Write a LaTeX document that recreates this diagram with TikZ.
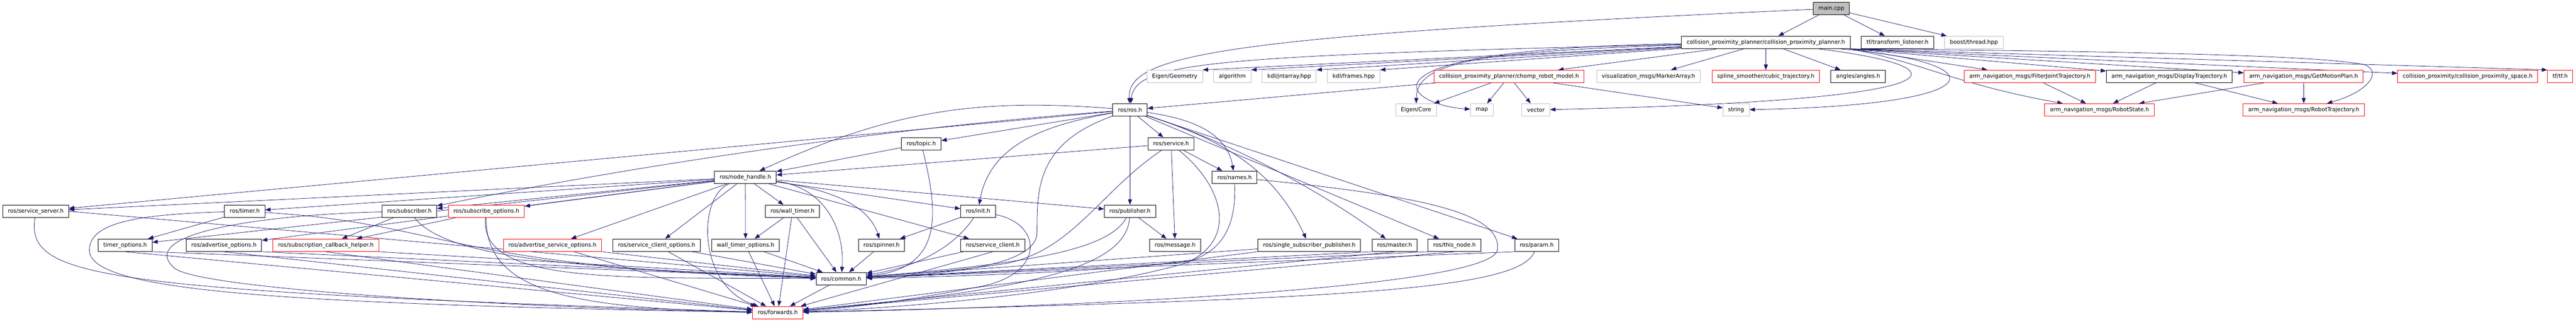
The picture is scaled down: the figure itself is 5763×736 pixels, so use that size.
\documentclass[tikz,border=0pt]{standalone}
\usepackage{fontspec}
\setmainfont{DejaVu Sans}
\usetikzlibrary{arrows.meta,positioning,backgrounds}
\definecolor{edgeblue}{HTML}{191970}
\definecolor{nodocgray}{HTML}{BFBFBF}

\begin{document}
\begin{tikzpicture}[x=1pt,y=-1pt,
    font=\fontsize{12.5}{15}\selectfont,
    >={Triangle[length=12pt,width=9pt]},
    box/.style={draw=black,line width=1.1pt,fill=white,minimum height=28pt,inner xsep=11.5pt,inner ysep=0pt},
    greybox/.style={box,draw=nodocgray},
    redbox/.style={box,draw=red},
    every edge/.style={draw=edgeblue,line width=0.9pt},
    link/.style={->,draw=edgeblue,line width=0.9pt}]
  \useasboundingbox (0,0) rectangle (5763,736);

  % top
  \node[box,fill=nodocgray] (main) at (4097,19) {main.cpp};
  \node[box] (cpp) at (3950.5,95) {collision\_proximity\_planner/collision\_proximity\_planner.h};
  \node[box] (tflisten) at (4245,95) {tf/transform\_listener.h};
  \node[greybox] (boostthr) at (4416,95) {boost/thread.hpp};

  % planner includes
  \node[greybox] (eigengeo) at (2628,171) {Eigen/Geometry};
  \node[greybox] (algo) [right=24pt of eigengeo] {algorithm};
  \node[greybox] (jntarr) [right=24pt of algo] {kdl/jntarray.hpp};
  \node[greybox] (kdlframes) [right=24pt of jntarr] {kdl/frames.hpp};
  \node[redbox] (chomp) at (3376,171) {collision\_proximity\_planner/chomp\_robot\_model.h};
  \node[greybox] (markers) at (3688,171) {visualization\_msgs/MarkerArray.h};
  \node[redbox] (cubic) at (3950.5,171) {spline\_smoother/cubic\_trajectory.h};
  \node[box] (angles) at (4157,171) {angles/angles.h};
  \node[redbox] (filterjt) at (4541,171) {arm\_navigation\_msgs/FilterJointTrajectory.h};
  \node[box] (displaytraj) at (4853,171) {arm\_navigation\_msgs/DisplayTrajectory.h};
  \node[redbox] (getplan) at (5153.5,171) {arm\_navigation\_msgs/GetMotionPlan.h};
  \node[redbox] (cpspace) at (5520.5,171) {collision\_proximity/collision\_proximity\_space.h};
  \node[redbox] (tftf) at (5727.5,171) {tf/tf.h};

  \node[box] (ros) at (2528,246) {ros/ros.h};
  \node[greybox] (eigencore) at (3168,246) {Eigen/Core};
  \node[greybox] (map) at (3315,246) {map};
  \node[greybox] (vector) at (3436,246) {vector};
  \node[greybox] (string) at (3884,246) {string};
  \node[redbox] (robstate) at (4697,246) {arm\_navigation\_msgs/RobotState.h};
  \node[redbox] (robtraj) at (5154,246) {arm\_navigation\_msgs/RobotTrajectory.h};

  % roscpp
  \node[box] (topic) at (2061,322) {ros/topic.h};
  \node[box] (service) at (2620,322) {ros/service.h};
  \node[box] (nh) at (1667.5,397) {ros/node\_handle.h};
  \node[box] (names) at (2762,397) {ros/names.h};

  \node[box] (srvserver) at (80,473) {ros/service\_server.h};
  \node[box] (timer) at (547.5,473) {ros/timer.h};
  \node[box] (subscriber) at (916,473) {ros/subscriber.h};
  \node[redbox] (subopts) at (1088,473) {ros/subscribe\_options.h};
  \node[box] (walltimer) at (1773,473) {ros/wall\_timer.h};
  \node[box] (init) at (2188,473) {ros/init.h};
  \node[box] (publisher) at (2528,473) {ros/publisher.h};

  \node[box] (timeropts) at (280,549) {timer\_options.h};
  \node[box] (advopts) at (501,549) {ros/advertise\_options.h};
  \node[redbox] (subhelper) at (729,549) {ros/subscription\_callback\_helper.h};
  \node[redbox] (advsrvopts) at (1236,549) {ros/advertise\_service\_options.h};
  \node[box] (srvclientopts) at (1469,549) {ros/service\_client\_options.h};
  \node[box] (walltimeropts) at (1668,549) {wall\_timer\_options.h};
  \node[box] (spinner) at (1972,549) {ros/spinner.h};
  \node[box] (srvclient) at (2221,549) {ros/service\_client.h};
  \node[box] (message) at (2629,549) {ros/message.h};
  \node[box] (singlesub) at (2929,549) {ros/single\_subscriber\_publisher.h};
  \node[box] (master) at (3120,549) {ros/master.h};
  \node[box] (thisnode) at (3254,549) {ros/this\_node.h};
  \node[box] (param) at (3438,549) {ros/param.h};

  \node[box] (common) at (1882,624) {ros/common.h};
  \node[redbox] (forwards) at (1740,700) {ros/forwards.h};

  \begin{pgfonlayer}{background}
    % main.cpp
    \path[->] (main) edge (cpp) edge (tflisten) edge (boostthr);
    \draw[link] (main) .. controls (2750,80) and (2520,120) .. (ros);
    % planner header
    \draw[link] (cpp) .. controls (2700,125) and (2540,140) .. (ros);
    \path[->] (cpp) edge (eigengeo.north east) edge (algo.north east) edge (jntarr.north east)
      edge (kdlframes.north east) edge (chomp) edge (markers) edge (cubic) edge (angles);
    \draw[link] (cpp) .. controls (3300,115) and (3170,140) .. (eigencore);
    \draw[link] (cpp) .. controls (3000,110) and (3140,235) .. (map);
    \draw[link] (cpp) .. controls (4400,150) and (4420,225) .. (vector);
    \draw[link] (cpp) .. controls (4470,140) and (4470,235) .. (string);
    \path[->] (cpp.south east) edge (filterjt) edge (displaytraj) edge (getplan) edge (cpspace) edge (tftf.north west);
    \draw[link] (cpp.south east) .. controls (4300,140) and (4380,190) .. (robstate);
    \draw[link] (cpp.south east) .. controls (4800,115) and (5200,125) .. (5290,145) .. controls (5330,160) and (5300,205) .. (robtraj);
    \path[->] (chomp) edge (ros) edge (eigencore) edge (map) edge (vector) edge (string);
    \path[->] (filterjt) edge (robstate);
    \path[->] (displaytraj) edge (robstate) edge (robtraj);
    \path[->] (getplan) edge (robstate) edge (robtraj);
    % ros/ros.h
    \path[->] (ros) edge (service) edge (topic) edge (publisher) edge (srvserver)
      edge (thisnode) edge (param);
    \draw[link] (ros) .. controls (2190,220) and (2000,245) .. (nh);
    \draw[link] (ros) .. controls (2658,265) and (2744,293) .. (names);
    \draw[link] (ros) .. controls (2348,278) and (2215,319) .. (init);
    \draw[link] (ros) .. controls (2000,285) and (1450,365) .. (subscriber);
    \draw[link] (ros) .. controls (2733,313) and (2847,375) .. (singlesub);
    \draw[link] (ros) .. controls (2741,315) and (2939,416) .. (master);
    \draw[link] (ros) .. controls (2320,320) and (2320,420) .. (2320,520) .. controls (2320,590) and (2150,612) .. (common);
    \path[->] (topic) edge (nh);
    \draw[link] (topic) .. controls (2100,480) and (2110,600) .. (common);
    \path[->] (service) edge (nh) edge (names) edge (message);
    \draw[link] (service) .. controls (2460,430) and (2400,560) .. (2250,590) .. controls (2150,605) and (2050,612) .. (common);
    \draw[link] (service) .. controls (2740,420) and (2770,540) .. (2650,590) .. controls (2400,660) and (2000,690) .. (forwards);
    \draw[link] (names) .. controls (2765,500) and (2740,560) .. (2660,585) .. controls (2450,610) and (2100,620) .. (common);
    \draw[link] (names) .. controls (3200,440) and (3360,480) .. (3350,560) .. controls (3330,650) and (2300,690) .. (forwards);
    % ros/node_handle.h
    \path[->] (nh) edge (srvserver) edge (timer) edge (timeropts) edge (advopts) edge (subscriber)
      edge (subopts) edge (advsrvopts) edge (srvclientopts) edge (walltimeropts) edge (walltimer)
      edge (init) edge (publisher) edge (srvclient);
    \draw[link] (nh) .. controls (1850,420) and (1890,520) .. (common);
    \draw[link] (nh) .. controls (1900,430) and (1950,480) .. (spinner);
    \draw[link] (nh) .. controls (1560,440) and (1560,640) .. (forwards);
    \path[->] (walltimer) edge (walltimeropts) edge (common) edge (forwards);
    \path[->] (walltimeropts) edge (common) edge (forwards);
    \path[->] (spinner) edge (common);
    \path[->] (init) edge (spinner);
    \draw[link] (init) .. controls (2130,560) and (2040,600) .. (common);
    \draw[link] (init) .. controls (2330,500) and (2340,610) .. (2200,640) .. controls (2050,670) and (1900,690) .. (forwards);
    \path[->] (publisher) edge (message);
    \draw[link] (publisher) .. controls (2480,560) and (2300,590) .. (common);
    \draw[link] (publisher) .. controls (2520,600) and (2300,650) .. (forwards);
    \path[->] (srvclient) edge (common) (srvclient.south) edge (forwards);
    \path[->] (singlesub) edge (common) edge (forwards);
    \path[->] (master.south west) edge (common) (master.south) edge (forwards);
    \path[->] (thisnode.south west) edge (common) (thisnode.south) edge (forwards);
    \path[->] (param.south west) edge (common);
    \draw[link] (param) .. controls (3400,650) and (3000,670) .. (forwards);
    % left part
    \path[->] (srvserver.east) edge (common);
    \draw[link] (srvserver) .. controls (60,620) and (200,650) .. (forwards);
    \path[->] (timer) edge (timeropts);
    \draw[link] (timer) .. controls (1000,500) and (1000,600) .. (common);
    \draw[link] (timer) .. controls (300,480) and (200,500) .. (200,560) .. controls (200,650) and (600,680) .. (forwards);
    \path[->] (timeropts.south east) edge (common) (timeropts.south) edge (forwards);
    \path[->] (advopts.south east) edge (common) (advopts.south) edge (forwards);
    \path[->] (subhelper.south east) edge (common) (subhelper.south) edge (forwards);
    \path[->] (subscriber) edge (subhelper);
    \draw[link] (subscriber) .. controls (1000,580) and (1300,600) .. (common);
    \draw[link] (subscriber) .. controls (600,480) and (300,520) .. (390,600) .. controls (450,650) and (1200,690) .. (forwards);
    \path[->] (subopts) edge (subhelper);
    \draw[link] (subopts) .. controls (1070,640) and (1400,620) .. (common);
    \draw[link] (subopts) .. controls (1085,660) and (1300,690) .. (forwards);
    \path[->] (advsrvopts.south east) edge (common) (advsrvopts) edge (forwards);
    \path[->] (srvclientopts) edge (common) edge (forwards);
    \path[->] (common) edge (forwards);
  \end{pgfonlayer}
\end{tikzpicture}
\end{document}
